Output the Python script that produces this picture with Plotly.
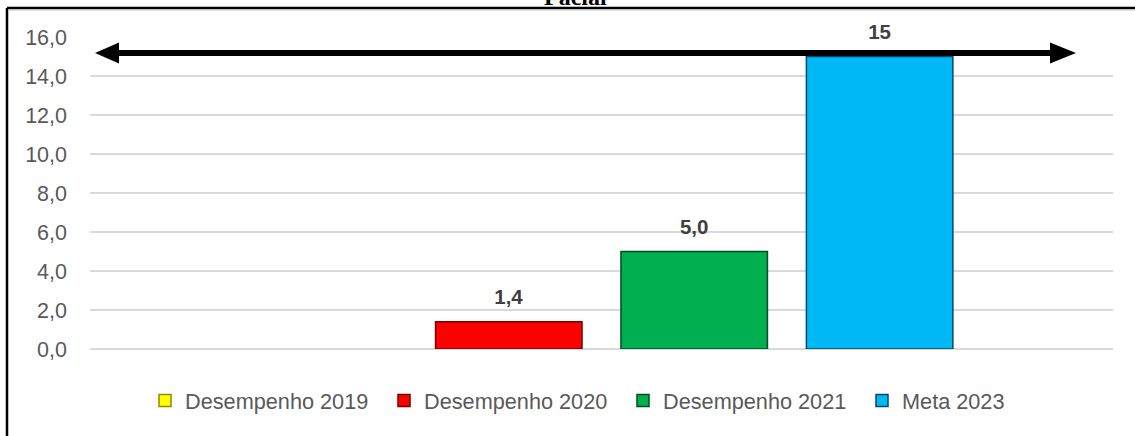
import plotly.graph_objects as go

# data
series = ['Desempenho 2019', 'Desempenho 2020', 'Desempenho 2021', 'Meta 2023']
values = [None, 1.4, 5.0, 15]
labels = ['', '1,4', '5,0', '15']
colors = ['#FFFF00', '#FF0000', '#00B050', '#00B8F5']
edges = ['#8C8C00', '#7A0000', '#004D23', '#004A66']
category = ['']
y_ticks = [0, 2, 4, 6, 8, 10, 12, 14, 16]
arrow_level = 15.18
title_text = 'Facial'

fig = go.Figure()

for name, v, lab, c, e in zip(series, values, labels, colors, edges):
    # small blank second line lifts the label off the bar like the original
    txt = "<span style='font-size:20.5px'>" + lab + "</span><br>&nbsp;" if lab else ''
    fig.add_trace(go.Bar(
        x=category, y=[v], name=name,
        marker=dict(color=c, line=dict(color=e, width=1.5)),
        text=[txt], textposition='outside', cliponaxis=False,
        textfont=dict(family='Liberation Sans', size=10, color='#404040', weight='bold'),
    ))

# plot area spans x 90..1113 px, y 37..349 px
def px_x(p):
    return (p - 90) / 1023.0

def px_y(p):
    return (349 - p) / 312.0

shapes = [
    # double-headed arrow
    dict(type='line', xref='paper', yref='y', x0=px_x(110), x1=px_x(1060),
         y0=arrow_level, y1=arrow_level, line=dict(color='black', width=6)),
    dict(type='path', xref='paper', yref='y', xsizemode='pixel', ysizemode='pixel',
         xanchor=px_x(95), yanchor=arrow_level, path='M0,0 L24,10.5 L24,-10.5 Z',
         fillcolor='black', line=dict(width=0)),
    dict(type='path', xref='paper', yref='y', xsizemode='pixel', ysizemode='pixel',
         xanchor=px_x(1076), yanchor=arrow_level, path='M0,0 L-26,10.5 L-26,-10.5 Z',
         fillcolor='black', line=dict(width=0)),
    # outer frame (left and top edges)
    dict(type='line', xref='paper', yref='paper', x0=px_x(7), x1=px_x(7),
         y0=px_y(8), y1=px_y(460), line=dict(color='black', width=2.5)),
    dict(type='line', xref='paper', yref='paper', x0=px_x(7), x1=px_x(1160),
         y0=px_y(8), y1=px_y(8), line=dict(color='black', width=2.5)),
    dict(type='line', xref='paper', yref='paper', x0=px_x(8), x1=px_x(1160),
         y0=px_y(10), y1=px_y(10), line=dict(color='#BFBFBF', width=1)),
]

fig.update_layout(
    width=1135, height=436,
    margin=dict(l=90, r=22, t=37, b=87),
    paper_bgcolor='white', plot_bgcolor='white',
    separators=',.',
    barmode='group', bargap=0.275, bargroupgap=0.21,
    showlegend=True,
    legend=dict(orientation='h', x=px_x(145), xanchor='left', y=px_y(401), yanchor='middle',
                font=dict(family='Liberation Sans', size=21.7, color='#595959'),
                itemwidth=30, entrywidth=194, entrywidthmode='pixels', traceorder='normal'),
    shapes=shapes,
    annotations=[dict(text='<b>' + title_text + '</b>', xref='paper', yref='paper',
                      x=px_x(575), y=px_y(-3), xanchor='center', yanchor='middle',
                      showarrow=False,
                      font=dict(family='Liberation Serif', size=24, color='black'))],
)

fig.update_xaxes(showticklabels=False, showgrid=False, zeroline=False, showline=False)
fig.update_yaxes(range=[0, 16], tickvals=y_ticks, tickformat='.1f',
                 showgrid=True, gridcolor='#D9D9D9', gridwidth=1.5,
                 zeroline=True, zerolinecolor='#D9D9D9', zerolinewidth=1.5,
                 showline=False, ticks='', ticklabelstandoff=22,
                 tickfont=dict(family='Liberation Sans', size=21.5, color='#595959'))

fig.write_html('out.html', config={'displayModeBar': False},
               post_script="document.body.style.margin='0';")
